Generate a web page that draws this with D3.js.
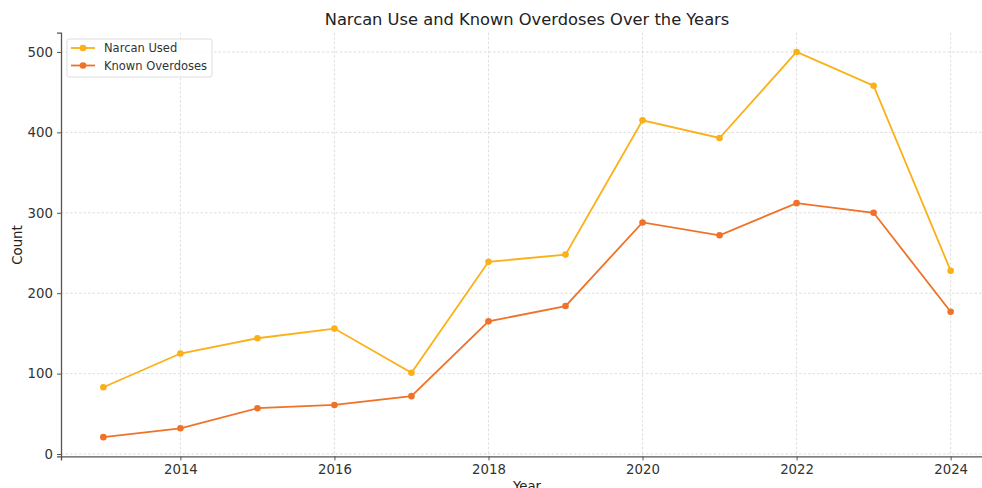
<!DOCTYPE html>
<html lang="en">
<head>
<meta charset="UTF-8">
<title>Narcan Use and Known Overdoses</title>
<script src="https://cdn.jsdelivr.net/npm/d3@7"></script>
<style>
  body { margin: 0; background: #fff; }
  svg { font-family: "DejaVu Sans", sans-serif; }
</style>
</head>
<body>
<script>
const years = [2013, 2014, 2015, 2016, 2017, 2018, 2019, 2020, 2021, 2022, 2023, 2024]
const narcanUsed = [83, 125, 144, 156, 101, 239, 248, 415, 393, 500, 458, 228]
const knownOverdoses = [21, 32, 57, 61, 72, 165, 184, 288, 272, 312, 300, 177]
const xTicks = [2014, 2016, 2018, 2020, 2022, 2024]
const yTicks = [0, 100, 200, 300, 400, 500]

const w = 982, h = 488
const plotLeft = 61, plotRight = 993, plotTop = 32.7, plotBottom = 456.4

const svg = d3.select("body").append("svg").attr("width", w).attr("height", h)

const x = d3.scaleLinear().domain([2012.45, 2024.55]).range([plotLeft, plotRight])
const y = d3.scaleLinear().domain([-2.95, 523.95]).range([plotBottom, plotTop])

// grid
svg.append("g").selectAll("line").data(xTicks).join("line")
  .attr("x1", d => x(d)).attr("x2", d => x(d)).attr("y1", plotTop).attr("y2", plotBottom)
  .attr("stroke", "#d6d6d6").attr("stroke-width", 0.8).attr("stroke-dasharray", "2.5,2")
svg.append("g").selectAll("line").data(yTicks).join("line")
  .attr("x1", plotLeft).attr("x2", plotRight).attr("y1", d => y(d)).attr("y2", d => y(d))
  .attr("stroke", "#d6d6d6").attr("stroke-width", 0.8).attr("stroke-dasharray", "2.5,2")

// axes
const xAxis = svg.append("g").attr("transform", `translate(0,${plotBottom})`)
  .call(d3.axisBottom(x).tickValues(xTicks).tickFormat(d3.format("d")).tickSizeOuter(0).tickSize(4).tickPadding(4))
const yAxis = svg.append("g").attr("transform", `translate(${plotLeft},0)`)
  .call(d3.axisLeft(y).tickValues(yTicks).tickSizeOuter(0).tickSize(4).tickPadding(4))
for (const a of [xAxis, yAxis]) {
  a.select(".domain").attr("stroke", "#555").attr("stroke-width", 1.3)
  a.selectAll(".tick line").attr("stroke", "#555")
  a.selectAll(".tick text").attr("fill", "#333").style("font-size", "13.3px").style("font-family", "DejaVu Sans")
}

// series
const series = [
  { name: "Narcan Used", values: narcanUsed, color: "#fbb017" },
  { name: "Known Overdoses", values: knownOverdoses, color: "#f07228" }
]
const line = d3.line().x(d => x(d[0])).y(d => y(d[1]))
series.forEach(s => {
  const pts = years.map((yr, i) => [yr, s.values[i]])
  svg.append("path").datum(pts).attr("d", line)
    .attr("fill", "none").attr("stroke", s.color).attr("stroke-width", 1.8)
  svg.append("g").selectAll("circle").data(pts).join("circle")
    .attr("cx", d => x(d[0])).attr("cy", d => y(d[1])).attr("r", 3.3).attr("fill", s.color)
})

// title and labels
svg.append("text").attr("x", 527).attr("y", 25).attr("text-anchor", "middle")
  .style("font-size", "16.3px").attr("fill", "#222").text("Narcan Use and Known Overdoses Over the Years")
svg.append("text").attr("transform", "translate(22,245) rotate(-90)").attr("text-anchor", "middle")
  .style("font-size", "13.3px").attr("fill", "#222").text("Count")
svg.append("text").attr("x", 527).attr("y", 491).attr("text-anchor", "middle")
  .style("font-size", "13.3px").attr("fill", "#222").text("Year")

// legend
const legend = svg.append("g")
legend.append("rect").attr("x", 67).attr("y", 39).attr("width", 145).attr("height", 38).attr("rx", 2)
  .attr("fill", "#fff").attr("fill-opacity", 0.85).attr("stroke", "#ddd")
series.forEach((s, i) => {
  const ly = 48 + i * 17.5
  legend.append("line").attr("x1", 71).attr("x2", 95).attr("y1", ly).attr("y2", ly)
    .attr("stroke", s.color).attr("stroke-width", 1.8)
  legend.append("circle").attr("cx", 83).attr("cy", ly).attr("r", 3.3).attr("fill", s.color)
  legend.append("text").attr("x", 104).attr("y", ly + 4).style("font-size", "11.5px").attr("fill", "#333").text(s.name)
})
</script>
</body>
</html>
